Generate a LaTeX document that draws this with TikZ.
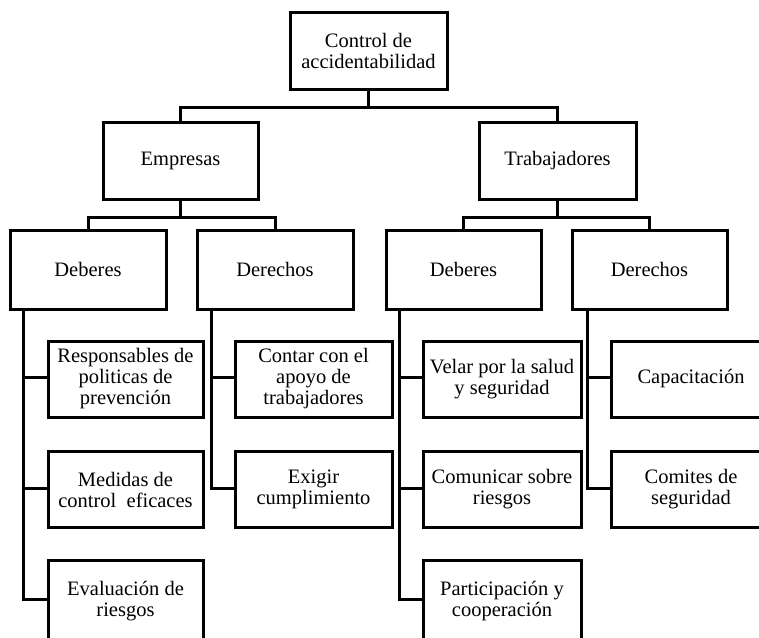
\documentclass[tikz,border=0pt]{standalone}
\usepackage{fontspec}
\setmainfont{Liberation Serif}
\begin{document}
\begin{tikzpicture}[x=1pt,y=-1pt,
  box/.style={draw=black,line width=3pt,fill=white,inner sep=0pt,align=center,
    minimum width=156pt,minimum height=77pt,font=\fontsize{20.5}{21}\selectfont},
  leaf/.style={box,minimum height=76pt},
  link/.style={line width=3pt,draw=black,line join=miter}]
\useasboundingbox (0,0) rectangle (759,637);
\clip (0,0) rectangle (759,637);
% level 0
\node[box,minimum width=157pt] (top) at (368.5,50.5) {Control de\\accidentabilidad};
% level 1
\node[box,minimum width=155pt] (emp) at (180.5,160.5) {Empresas};
\node[box,minimum width=157pt] (trab) at (557.5,160.5) {Trabajadores};
% level 2
\node[box,minimum height=79pt] (debE) at (88,269.5) {Deberes};
\node[box,minimum height=79pt] (derE) at (275,269.5) {Derechos};
\node[box,minimum height=79pt,minimum width=155pt] (debT) at (463.5,269.5) {Deberes};
\node[box,minimum height=79pt,minimum width=155pt] (derT) at (649.5,269.5) {Derechos};
% leaves
\node[leaf,minimum width=155pt] (e1) at (125.5,379) {Responsables de\\politicas de\\prevención};
\node[leaf,minimum width=155pt] (e2) at (125.5,489.5) {Medidas de\\control\ \ eficaces};
\node[leaf,minimum width=155pt,minimum height=82pt] (e3) at (125.5,601.5) {Evaluación de\\riesgos};
\node[leaf,minimum width=157pt] (f1) at (313.5,379) {Contar con el\\apoyo de\\trabajadores};
\node[leaf,minimum width=157pt] (f2) at (313.5,489.5) {Exigir\\cumplimiento};
\node[leaf,minimum width=158pt] (t1) at (502,379) {Velar por la salud\\y seguridad};
\node[leaf,minimum width=158pt] (t2) at (502,489.5) {Comunicar sobre\\riesgos};
\node[leaf,minimum width=158pt,minimum height=82pt] (t3) at (502,601.5) {Participación y\\cooperación};
\node[leaf,minimum width=160pt] (d1) at (691,379) {Capacitación};
\node[leaf,minimum width=160pt] (d2) at (691,489.5) {Comites de\\seguridad};
% connectors
\draw[link] (top.south) -- ++(0,17) -| (emp.north);
\draw[link] (top.south) -- ++(0,17) -| (trab.north);
\draw[link] (emp.south) -- ++(0,17) -| (debE.north);
\draw[link] (emp.south) -- ++(0,17) -| (derE.north);
\draw[link] (trab.south) -- ++(0,17) -| (debT.north);
\draw[link] (trab.south) -- ++(0,17) -| (derT.north);
\draw[link] ([xshift=15pt]debE.south west) |- ([yshift=2pt]e1.west);
\draw[link] ([xshift=15pt]debE.south west) |- ([yshift=1pt]e2.west);
\draw[link] ([xshift=15pt]debE.south west) |- ([yshift=2pt]e3.west);
\draw[link] ([xshift=16pt]derE.south west) |- ([yshift=2pt]f1.west);
\draw[link] ([xshift=16pt]derE.south west) |- ([yshift=1pt]f2.west);
\draw[link] ([xshift=15pt]debT.south west) |- ([yshift=2pt]t1.west);
\draw[link] ([xshift=15pt]debT.south west) |- ([yshift=1pt]t2.west);
\draw[link] ([xshift=15pt]debT.south west) |- ([yshift=2pt]t3.west);
\draw[link] ([xshift=17pt]derT.south west) |- ([yshift=2pt]d1.west);
\draw[link] ([xshift=17pt]derT.south west) |- ([yshift=1pt]d2.west);
\end{tikzpicture}
\end{document}
